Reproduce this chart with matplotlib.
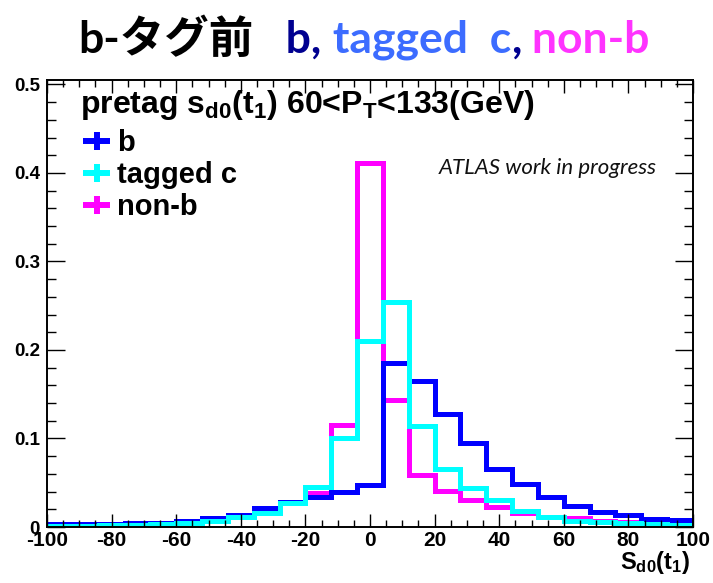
import numpy as np
import matplotlib
matplotlib.use("Agg")
import matplotlib.pyplot as plt
from matplotlib.lines import Line2D
from matplotlib.ticker import MultipleLocator

plt.rcParams['axes.unicode_minus'] = False
plt.rcParams['mathtext.fontset'] = 'custom'
plt.rcParams['mathtext.rm'] = 'Liberation Sans:bold'
plt.rcParams['mathtext.it'] = 'Liberation Sans:bold'
plt.rcParams['mathtext.bf'] = 'Liberation Sans:bold'
plt.rcParams['font.family'] = ['Liberation Sans', 'DejaVu Sans']

# S_d0(t1) binning: 25 bins of width 8 between -100 and 100
edges = np.linspace(-100, 100, 26)

h_b = [0.003, 0.003, 0.0035, 0.004, 0.005, 0.007, 0.010, 0.014, 0.022, 0.028,
       0.034, 0.040, 0.0475, 0.185, 0.165, 0.128, 0.095, 0.066, 0.0486, 0.034,
       0.0237, 0.0173, 0.0136, 0.0087, 0.008]
h_c = [0.001, 0.0015, 0.002, 0.0025, 0.0035, 0.005, 0.007, 0.011, 0.016, 0.0275,
       0.045, 0.100, 0.2105, 0.2546, 0.114, 0.066, 0.0437, 0.030, 0.0185, 0.0117,
       0.0071, 0.006, 0.005, 0.0034, 0.0026]
h_nonb = [0.002, 0.0025, 0.003, 0.0035, 0.0045, 0.006, 0.009, 0.012, 0.020, 0.028,
          0.038, 0.115, 0.411, 0.143, 0.0588, 0.0407, 0.0305, 0.023, 0.0155, 0.0117,
          0.0098, 0.007, 0.006, 0.005, 0.004]

labels = ['b', 'tagged c', 'non-b']
colors = ['#0000ff', '#00ffff', '#ff00ff']

W, H = 713, 583
fig = plt.figure(figsize=(W/100, H/100), dpi=100)
ax = fig.add_axes([47/W, 56/H, 646/W, 447/H])

lw = 3.6
ax.stairs(h_nonb, edges, color=colors[2], lw=lw, baseline=None)
ax.stairs(h_b, edges, color=colors[0], lw=lw, baseline=None)
ax.stairs(h_c, edges, color=colors[1], lw=lw, baseline=None)

ax.set_xlim(-100, 100)
ax.set_ylim(0, 0.505)
ax.xaxis.set_major_locator(MultipleLocator(20))
ax.xaxis.set_minor_locator(MultipleLocator(5))
ax.yaxis.set_minor_locator(MultipleLocator(0.02))
ax.set_yticks([0, 0.1, 0.2, 0.3, 0.4, 0.5])
ax.set_yticklabels(['0', '0.1', '0.2', '0.3', '0.4', '0.5'])
for s in ax.spines.values():
    s.set_linewidth(1.4)

ax.tick_params(axis='both', which='both', direction='in', top=True, right=True,
               width=1.0)
ax.tick_params(axis='y', which='major', length=13, pad=5, labelsize=13.5)
ax.tick_params(axis='y', which='minor', length=6.5)
ax.tick_params(axis='x', which='major', length=9.5, pad=3, labelsize=15)
ax.tick_params(axis='x', which='minor', length=5)
for t in ax.get_xticklabels() + ax.get_yticklabels():
    t.set_fontweight('bold')

# axis title in the bottom right corner
fig.text(690/W, 1 - 569/H, r'$\mathrm{S_{d0}(t_{1})}$', ha='right',
         va='baseline', fontsize=17)

# legend: header line plus one cross per sample
fig.text(80/W, 1 - 113/H,
         r'pretag $\mathrm{s_{d0}(t_{1})}$ 60<$\mathrm{P_{T}}$<133(GeV)',
         fontsize=23, fontweight='bold', va='baseline')
for i, (lab, col) in enumerate(zip(labels, colors)):
    yb = 151 + 32*i
    yc = 1 - (yb - 10)/H
    fig.text(117/W, 1 - yb/H, lab, fontsize=21, fontweight='bold',
             va='baseline')
    fig.add_artist(Line2D([83/W, 110/W], [yc, yc], color=col, lw=4.3,
                          solid_capstyle='butt'))
    fig.add_artist(Line2D([96.5/W, 96.5/W], [yc - 9/H, yc + 9/H], color=col,
                          lw=4.3, solid_capstyle='butt'))

ax.text(0.944, 0.79, 'ATLAS work in progress', transform=ax.transAxes,
        ha='right', va='baseline', fontsize=16, style='italic',
        family=['Lato', 'DejaVu Sans'], color='#111111')

# multi-coloured page title
title_parts = [('b-タグ前', 'black'), ('   b,', '#000090'),
               (' tagged  c', '#3c6cff'), (',', '#000090'),
               (' non-b', '#ff33ff')]
fig.canvas.draw()
renderer = fig.canvas.get_renderer()
x = 78
for txt, col in title_parts:
    t = fig.text(x/W, 1 - 53/H, txt, color=col, fontsize=32,
                 fontweight='bold', va='baseline',
                 family=['Lato', 'Noto Sans CJK JP'])
    bb = t.get_window_extent(renderer)
    x = bb.x1

fig.savefig('out.png', dpi=100)
